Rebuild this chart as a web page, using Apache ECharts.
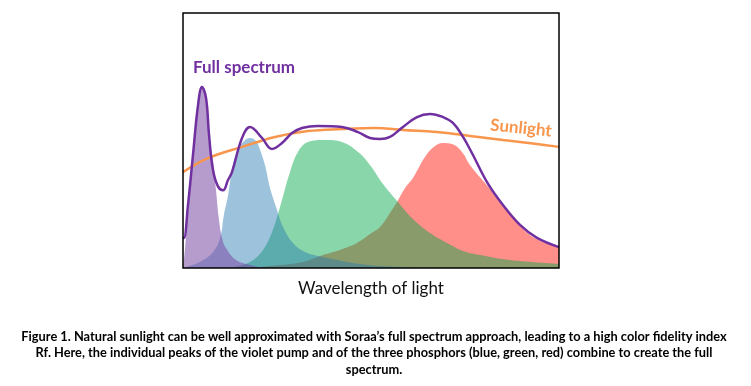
<!DOCTYPE html>
<html>
<head>
<meta charset="utf-8">
<script src="https://cdn.jsdelivr.net/npm/echarts@6/dist/echarts.min.js"></script>
<style>
html,body{margin:0;padding:0;background:#fff;}
#chart{width:751px;height:386px;}
</style>
</head>
<body>
<div id="chart"></div>
<script>
// x: wavelength (nm), y: relative intensity (0-100)
var violetPump = [[380,0.8],[382,7],[385,21],[387.5,31],[390.5,46],[393,56],[396,66],[400.2,71],[404.5,66],[407.7,51],[411.9,42.4],[415.1,30.6],[418.3,18.8],[421.5,11.8],[425.7,7.8],[436.4,3.1],[451.3,1.2],[467,0]];
var bluePhosphor = [[383,0.4],[398,2.4],[412,6.3],[419.5,11.8],[423.5,20.8],[428,28.6],[433,40.4],[438.5,46.3],[445,49.8],[451.3,51],[457.7,49.8],[462,46.3],[467.2,40.4],[472.6,31.4],[479,23.9],[486.4,16.1],[497,9.8],[509.8,6.3],[529,4.3],[568.3,1.6],[611,0.4],[653,0]];
var greenPhosphor = [[433.2,0.4],[451.3,2.4],[465.1,7.1],[474.7,14.1],[483.2,23.9],[493.8,37.6],[502.3,45.5],[513,49.4],[531,50.2],[549.1,49.4],[566.2,45.5],[578.9,40.4],[592.8,32.9],[607.7,26.3],[624.7,19.2],[642.8,13.7],[660.9,9.8],[677.9,6.7],[696,5.1],[727.9,3.1],[780,1.6]];
var redPhosphor = [[451.3,0],[483.2,1.2],[507.7,2.4],[528.9,5.1],[547,7.1],[565.1,9.8],[578.9,13.3],[589.6,16.1],[600.2,21.6],[607.7,25.9],[616.2,31.4],[624.7,35.3],[637.4,43.5],[648.1,47.8],[656.6,49],[666.2,48.6],[676.8,45.5],[685.3,40.4],[701.3,33.3],[720.4,24.7],[735.3,18],[749.1,12.9],[765.1,9.8],[780,8.2]];
var fullSpectrum = [[380,12],[381.1,11.8],[385.3,24.7],[390.6,44.3],[396,63.9],[400.2,71],[404.5,66.7],[407.7,52.2],[411.9,38.4],[417.2,32],[422.6,30.5],[427.9,34.5],[432.1,37.6],[442.8,51],[451.3,55.3],[464,51],[474.7,46.7],[485.3,49],[496,52.9],[506.6,54.9],[523.6,55.7],[549.1,55.3],[566.2,53.3],[578.9,51],[589.6,50.6],[600.2,51.4],[614,55.3],[628.9,59.2],[642.8,60.4],[656.6,59.2],[667.2,56.9],[677.9,51.4],[688.5,44.3],[703.4,33.7],[720.4,24.7],[738.5,16.9],[756.6,11.8],[780,8.2]];
var sunlight = [[380,37.6],[406.6,43.1],[442.8,47.5],[477.9,51.4],[513,53.7],[549.1,54.5],[584.3,54.9],[614,54.1],[650.2,53.3],[685.3,51.8],[720.4,50.2],[756.6,48.6],[780,47.5]];

var xLabel = 'Wavelength of light';
var fullLabel = 'Full spectrum';
var sunLabel = 'Sunlight';
var caption = 'Figure 1. Natural sunlight can be well approximated with Soraa\u2019s full spectrum approach, leading to a high color fidelity index\nRf. Here, the individual peaks of the violet pump and of the three phosphors (blue, green, red) combine to create the full\nspectrum.';

var G = {left:183, top:13, width:376, height:255};
var FONT = 'Lato, "Open Sans", sans-serif';

function areaSeries(name, data, color){
  return {
    name: name, type: 'line', data: data, smooth: 0.4,
    symbol: 'none', lineStyle: {width: 0}, clip: true,
    areaStyle: {color: color, opacity: 1}, silent: true
  };
}
function lineSeries(name, data, color, w){
  return {
    name: name, type: 'line', data: data, smooth: 0.4,
    symbol: 'none', lineStyle: {width: w, color: color}, clip: true, silent: true
  };
}

var chart = echarts.init(document.getElementById('chart'), null, {renderer: 'canvas'});
chart.setOption({
  animation: false,
  backgroundColor: '#fff',
  grid: {left: G.left, top: G.top, width: G.width, height: G.height, show: false},
  xAxis: {
    type: 'value', min: 380, max: 780,
    axisLabel: {show: false}, axisTick: {show: false}, splitLine: {show: false},
    axisLine: {show: false},
    name: xLabel, nameLocation: 'middle', nameGap: 12,
    nameTextStyle: {fontFamily: FONT, fontSize: 17, color: '#111'}
  },
  yAxis: {
    type: 'value', min: 0, max: 100,
    axisLabel: {show: false}, axisTick: {show: false}, splitLine: {show: false}, axisLine: {show: false}
  },
  series: [
    areaSeries('Red phosphor', redPhosphor, '#ff8f88'),
    areaSeries('Green phosphor', greenPhosphor, 'rgba(0,167,74,0.464)'),
    areaSeries('Blue phosphor', bluePhosphor, 'rgba(38,122,178,0.45)'),
    areaSeries('Violet pump', violetPump, 'rgba(125,77,166,0.56)'),
    lineSeries('Sunlight', sunlight, '#f8964d', 2.5),
    lineSeries('Full spectrum', fullSpectrum, '#7030a0', 2.5)
  ],
  graphic: [
    {type: 'rect', z: 100, silent: true,
     shape: {x: G.left, y: G.top, width: G.width, height: G.height},
     style: {fill: null, stroke: '#000', lineWidth: 1.5}},
    {type: 'text', z: 100, x: 193, y: 68, silent: true,
     style: {text: fullLabel, fill: '#7030a0', font: 'bold 17px ' + FONT, textAlign: 'left', textVerticalAlign: 'middle'}},
    {type: 'text', z: 100, x: 521, y: 128, rotation: -0.1, silent: true,
     style: {text: sunLabel, fill: '#f8964d', font: 'bold 17px ' + FONT, textAlign: 'center', textVerticalAlign: 'middle'}},
    {type: 'text', z: 100, x: 374, y: 353, silent: true,
     style: {text: caption, fill: '#000', font: 'bold 12.8px ' + FONT, lineHeight: 16.5, textAlign: 'center', textVerticalAlign: 'middle'}}
  ]
});
</script>
</body>
</html>
